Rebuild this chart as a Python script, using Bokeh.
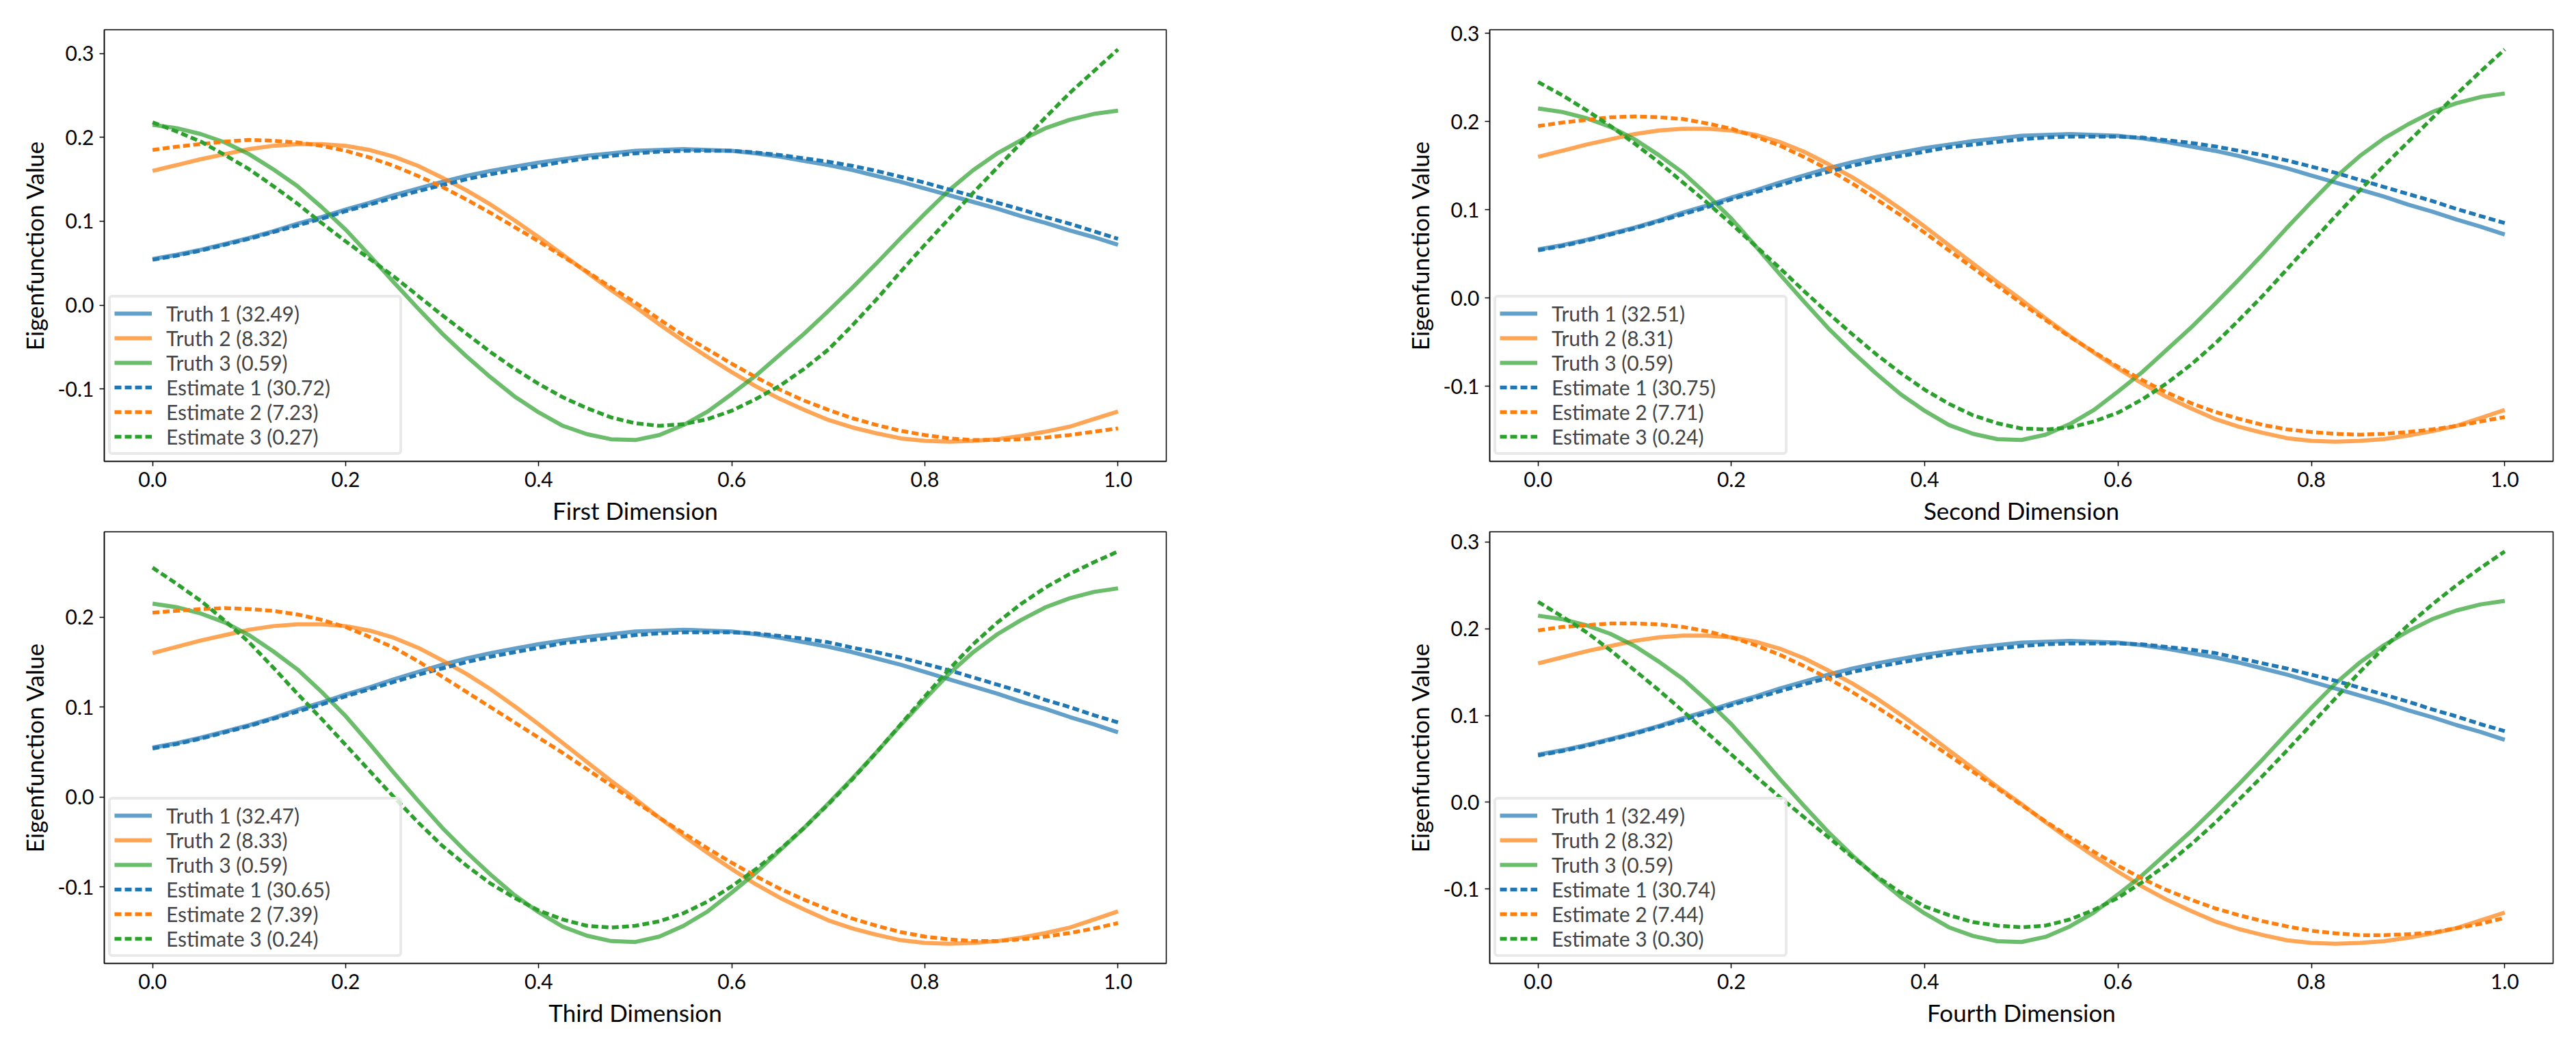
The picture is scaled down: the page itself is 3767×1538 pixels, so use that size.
# Eigenfunction estimates vs truth, four dimensions, 2x2 grid of panels
from bokeh.plotting import figure
from bokeh.models import Range1d, FixedTicker, PrintfTickFormatter
from bokeh.layouts import column, row
from bokeh.embed import file_html
from bokeh.resources import INLINE

# positions along each dimension
x = [0.0, 0.025, 0.05, 0.075, 0.1, 0.125, 0.15, 0.175, 0.2, 0.225,
     0.25, 0.275, 0.3, 0.325, 0.35, 0.375, 0.4, 0.425, 0.45, 0.475,
     0.5, 0.525, 0.55, 0.575, 0.6, 0.625, 0.65, 0.675, 0.7, 0.725,
     0.75, 0.775, 0.8, 0.825, 0.85, 0.875, 0.9, 0.925, 0.95, 0.975, 1.0]

# true eigenfunctions (same shape in every dimension)
truth1 = [0.055, 0.060, 0.066, 0.073, 0.080, 0.088, 0.097, 0.105, 0.114, 0.122,
          0.131, 0.139, 0.147, 0.154, 0.160, 0.165, 0.170, 0.174, 0.178, 0.181,
          0.184, 0.185, 0.186, 0.185, 0.184, 0.181, 0.177, 0.172, 0.167, 0.161,
          0.154, 0.147, 0.139, 0.131, 0.123, 0.115, 0.106, 0.098, 0.089, 0.081, 0.072]
truth2 = [0.160, 0.167, 0.174, 0.180, 0.186, 0.190, 0.192, 0.192, 0.190, 0.185,
          0.177, 0.166, 0.152, 0.137, 0.120, 0.101, 0.081, 0.060, 0.039, 0.018,
          -0.002, -0.023, -0.043, -0.062, -0.080, -0.097, -0.112, -0.125, -0.137, -0.146,
          -0.153, -0.159, -0.162, -0.163, -0.162, -0.160, -0.156, -0.151, -0.145, -0.136, -0.127]
truth3 = [0.215, 0.211, 0.204, 0.194, 0.180, 0.162, 0.142, 0.117, 0.090, 0.059,
          0.027, -0.004, -0.034, -0.061, -0.086, -0.109, -0.128, -0.144, -0.154, -0.160,
          -0.161, -0.155, -0.143, -0.127, -0.106, -0.084, -0.059, -0.034, -0.007, 0.021,
          0.050, 0.080, 0.109, 0.137, 0.161, 0.181, 0.197, 0.211, 0.221, 0.228, 0.232]

# estimated eigenfunctions, one set per dimension
est1_first = [0.054, 0.059, 0.065, 0.072, 0.079, 0.087, 0.095, 0.103, 0.112, 0.120,
              0.128, 0.136, 0.143, 0.150, 0.156, 0.161, 0.166, 0.171, 0.175, 0.178,
              0.181, 0.183, 0.184, 0.184, 0.184, 0.182, 0.179, 0.175, 0.171, 0.166,
              0.160, 0.153, 0.146, 0.138, 0.130, 0.122, 0.114, 0.105, 0.097, 0.088, 0.079]
est2_first = [0.185, 0.189, 0.192, 0.195, 0.197, 0.196, 0.194, 0.190, 0.184, 0.176,
              0.166, 0.154, 0.141, 0.126, 0.110, 0.093, 0.076, 0.058, 0.040, 0.021,
              0.003, -0.017, -0.036, -0.053, -0.070, -0.086, -0.101, -0.114, -0.125, -0.135,
              -0.143, -0.150, -0.155, -0.159, -0.161, -0.161, -0.160, -0.158, -0.155, -0.151, -0.147]
est3_first = [0.218, 0.207, 0.195, 0.179, 0.162, 0.142, 0.121, 0.098, 0.076, 0.055,
              0.034, 0.011, -0.012, -0.034, -0.056, -0.076, -0.094, -0.110, -0.123, -0.134,
              -0.141, -0.144, -0.142, -0.136, -0.126, -0.112, -0.096, -0.076, -0.053, -0.024,
              0.007, 0.040, 0.072, 0.103, 0.134, 0.164, 0.194, 0.224, 0.253, 0.279, 0.305]

est1_second = [0.054, 0.059, 0.065, 0.072, 0.079, 0.087, 0.095, 0.103, 0.112, 0.120,
               0.128, 0.136, 0.143, 0.150, 0.156, 0.161, 0.166, 0.171, 0.174, 0.177,
               0.180, 0.182, 0.183, 0.183, 0.183, 0.182, 0.179, 0.176, 0.172, 0.167,
               0.162, 0.156, 0.149, 0.142, 0.134, 0.126, 0.118, 0.110, 0.101, 0.093, 0.085]
est2_second = [0.195, 0.199, 0.202, 0.205, 0.206, 0.205, 0.203, 0.198, 0.192, 0.183,
               0.173, 0.160, 0.146, 0.130, 0.112, 0.094, 0.074, 0.054, 0.034, 0.014,
               -0.006, -0.025, -0.044, -0.061, -0.078, -0.093, -0.107, -0.119, -0.129, -0.137,
               -0.144, -0.149, -0.152, -0.154, -0.155, -0.154, -0.152, -0.149, -0.145, -0.140, -0.135]
est3_second = [0.245, 0.230, 0.213, 0.195, 0.175, 0.154, 0.131, 0.108, 0.084, 0.059,
               0.034, 0.008, -0.017, -0.041, -0.064, -0.085, -0.104, -0.120, -0.133, -0.142,
               -0.148, -0.149, -0.147, -0.140, -0.130, -0.115, -0.097, -0.076, -0.052, -0.025,
               0.003, 0.033, 0.063, 0.093, 0.122, 0.150, 0.177, 0.204, 0.231, 0.257, 0.282]

est1_third = [0.054, 0.059, 0.065, 0.072, 0.079, 0.087, 0.095, 0.103, 0.112, 0.120,
              0.128, 0.136, 0.143, 0.150, 0.156, 0.161, 0.166, 0.171, 0.174, 0.177,
              0.180, 0.182, 0.183, 0.183, 0.183, 0.182, 0.179, 0.176, 0.172, 0.166,
              0.161, 0.155, 0.148, 0.141, 0.133, 0.125, 0.117, 0.108, 0.100, 0.091, 0.083]
est2_third = [0.205, 0.207, 0.209, 0.210, 0.209, 0.207, 0.203, 0.197, 0.189, 0.178,
              0.166, 0.151, 0.134, 0.117, 0.100, 0.083, 0.066, 0.049, 0.031, 0.013,
              -0.005, -0.023, -0.040, -0.057, -0.073, -0.088, -0.102, -0.114, -0.125, -0.135,
              -0.143, -0.150, -0.155, -0.158, -0.160, -0.160, -0.158, -0.155, -0.151, -0.146, -0.140]
est3_third = [0.255, 0.237, 0.218, 0.196, 0.172, 0.144, 0.115, 0.087, 0.058, 0.029,
              0.000, -0.028, -0.054, -0.076, -0.096, -0.112, -0.126, -0.136, -0.143, -0.145,
              -0.143, -0.138, -0.129, -0.116, -0.099, -0.080, -0.058, -0.034, -0.008, 0.020,
              0.050, 0.081, 0.112, 0.142, 0.170, 0.194, 0.215, 0.233, 0.248, 0.261, 0.273]

est1_fourth = [0.054, 0.059, 0.065, 0.072, 0.079, 0.087, 0.095, 0.103, 0.112, 0.120,
               0.128, 0.136, 0.143, 0.150, 0.156, 0.161, 0.166, 0.171, 0.174, 0.177,
               0.180, 0.182, 0.183, 0.183, 0.183, 0.182, 0.179, 0.176, 0.172, 0.166,
               0.160, 0.154, 0.147, 0.140, 0.132, 0.124, 0.116, 0.107, 0.099, 0.090, 0.082]
est2_fourth = [0.198, 0.202, 0.204, 0.206, 0.206, 0.205, 0.202, 0.197, 0.190, 0.181,
               0.170, 0.157, 0.143, 0.127, 0.110, 0.092, 0.073, 0.054, 0.035, 0.016,
               -0.003, -0.022, -0.040, -0.057, -0.073, -0.088, -0.101, -0.112, -0.122, -0.130,
               -0.137, -0.143, -0.148, -0.151, -0.153, -0.153, -0.152, -0.150, -0.145, -0.140, -0.133]
est3_fourth = [0.231, 0.214, 0.196, 0.175, 0.152, 0.129, 0.105, 0.080, 0.055, 0.030,
               0.006, -0.017, -0.040, -0.063, -0.085, -0.104, -0.120, -0.130, -0.138, -0.142,
               -0.144, -0.142, -0.135, -0.124, -0.110, -0.092, -0.072, -0.049, -0.024, 0.003,
               0.031, 0.060, 0.090, 0.120, 0.150, 0.178, 0.204, 0.228, 0.250, 0.270, 0.289]

# eigenvalues shown in the legends
truth_vals = {"First": [32.49, 8.32, 0.59], "Second": [32.51, 8.31, 0.59],
              "Third": [32.47, 8.33, 0.59], "Fourth": [32.49, 8.32, 0.59]}
est_vals = {"First": [30.72, 7.23, 0.27], "Second": [30.75, 7.71, 0.24],
            "Third": [30.65, 7.39, 0.24], "Fourth": [30.74, 7.44, 0.30]}

colors = ["#1f77b4", "#ff7f0e", "#2ca02c"]
FONT = "Lato"


def make_panel(name, ests, frame_w, borders):
    truths = [truth1, truth2, truth3]
    allv = sum(truths, []) + sum(ests, [])
    lo, hi = min(allv), max(allv)
    pad = 0.05 * (hi - lo)
    left, right, top, bottom = borders
    p = figure(frame_width=frame_w, frame_height=631,
               x_range=Range1d(-0.05, 1.05), y_range=Range1d(lo - pad, hi + pad),
               min_border_left=left, min_border_right=right,
               min_border_top=top, min_border_bottom=bottom,
               output_backend="svg", toolbar_location=None, tools="")
    for i in range(3):
        p.line(x, truths[i], color=colors[i], line_alpha=0.7, line_width=6,
               line_join="round",
               legend_label="Truth %d (%.2f)" % (i + 1, truth_vals[name][i]))
    for i in range(3):
        p.line(x, ests[i], color=colors[i], line_width=5.5, line_dash="10 5",
               legend_label="Estimate %d (%.2f)" % (i + 1, est_vals[name][i]))

    p.xgrid.grid_line_color = None
    p.ygrid.grid_line_color = None
    p.outline_line_color = "black"
    p.outline_line_width = 1.5
    p.outline_line_alpha = 1

    p.xaxis.ticker = FixedTicker(ticks=[0.0, 0.2, 0.4, 0.6, 0.8, 1.0])
    p.yaxis.ticker = FixedTicker(ticks=[-0.1, 0.0, 0.1, 0.2, 0.3])
    p.xaxis.formatter = PrintfTickFormatter(format="%.1f")
    p.yaxis.formatter = PrintfTickFormatter(format="%.1f")
    p.xaxis.axis_label = name + " Dimension"
    p.yaxis.axis_label = "Eigenfunction Value"
    for ax in [p.xaxis, p.yaxis]:
        ax.axis_line_width = 1.5
        ax.major_tick_out = 7
        ax.major_tick_in = 0
        ax.major_tick_line_width = 1.5
        ax.minor_tick_out = 0
        ax.minor_tick_in = 0
        ax.major_label_text_font = FONT
        ax.major_label_text_font_size = "30px"
        ax.major_label_text_color = "black"
        ax.major_label_standoff = 8
        ax.axis_label_text_font = FONT
        ax.axis_label_text_font_size = "35px"
        ax.axis_label_text_font_style = "normal"
        ax.axis_label_text_color = "black"
        ax.axis_label_standoff = 10

    lg = p.legend[0]
    lg.location = (6, 9)
    lg.margin = 0
    lg.padding = 5
    lg.spacing = 0
    lg.glyph_width = 55
    lg.glyph_height = 30
    lg.label_height = 30
    lg.label_width = 336
    lg.label_standoff = 21
    lg.label_text_font = FONT
    lg.label_text_font_size = "30px"
    lg.border_line_color = "#d4d4d4"
    lg.border_line_width = 4
    lg.background_fill_alpha = 0.8
    try:
        lg.border_radius = 6  # rounded legend frame, if this Bokeh has it
    except AttributeError:
        pass
    return p


p1 = make_panel("First", [est1_first, est2_first, est3_first], 1553, (152, 200, 43, 90))
p2 = make_panel("Second", [est1_second, est2_second, est3_second], 1555, (273, 10, 43, 90))
p3 = make_panel("Third", [est1_third, est2_third, est3_third], 1553, (152, 200, 8, 100))
p4 = make_panel("Fourth", [est1_fourth, est2_fourth, est3_fourth], 1555, (273, 10, 8, 100))

layout = column(row(p1, p2), row(p3, p4))
open("out.html", "w").write(file_html(layout, INLINE))
